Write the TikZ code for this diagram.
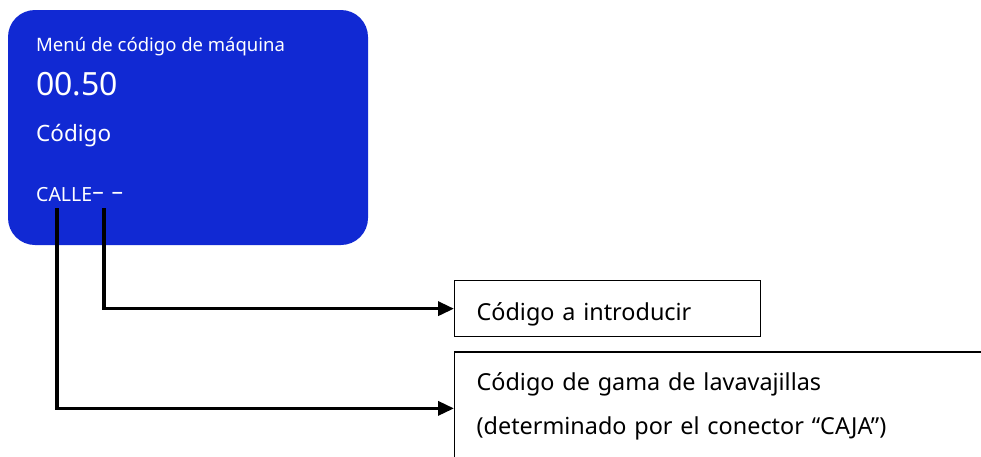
\documentclass[tikz,border=0pt]{standalone}
\usepackage{fontspec}
\setmainfont{Noto Sans}
\usepackage{xcolor}
\usetikzlibrary{positioning, arrows.meta}
\definecolor{panelblue}{RGB}{17,41,211}

\begin{document}
\begin{tikzpicture}[
        x=1pt, y=-1pt,
        panel/.style={rectangle, fill=panelblue, draw=none, rounded corners=27pt, minimum width=360pt, minimum height=235pt},
        paneltext/.style={anchor=base west, inner sep=0pt, text=white},
        infobox/.style={draw, rectangle, line width=1.3pt, inner xsep=22pt, align=left, font=\fontsize{23.4}{43.3}\selectfont},
        arr/.style={-{Triangle[length=16pt, width=14pt]}, line width=3.5pt}
    ]
    \useasboundingbox (0,0) rectangle (981,456);
    \clip (0,0) rectangle (981,456);

    \node[panel] (panel) at (188,127.5) {};
    \node[paneltext, font=\fontsize{18.5}{22}\selectfont] (title) at (36,51.7) {Menú de código de máquina};
    \node[paneltext, font=\fontsize{32}{38}\selectfont] (value) at (36,95) {00.50};
    \node[paneltext, font=\fontsize{22.5}{27}\selectfont] (label) at (36,141.7) {Código};
    \node[paneltext, font=\fontsize{19.5}{23}\selectfont] (street) at (36,201) {CALLE{\fontsize{23}{23}\selectfont\raisebox{1.5pt}{–}\hspace{8pt}\raisebox{1.5pt}{–}}};

    \node[infobox, anchor=north west, minimum width=306pt, minimum height=56pt, text width=262pt, text height=23pt, text depth=0pt] (intro) at (454,280) {Código a introducir};
    \node[infobox, below=14pt of intro.south west, anchor=north west, text width=600pt, inner ysep=21pt] (gama) {Código de gama de lavavajillas\\(determinado por el conector “CAJA”)};

    \coordinate (pinA) at (57,208);
    \coordinate (pinB) at (104,208);

    \draw[arr] (pinB) |- (intro.west);
    \draw[arr] (pinA) |- ([yshift=-2pt]gama.west);

    \end{tikzpicture}
\end{document}
